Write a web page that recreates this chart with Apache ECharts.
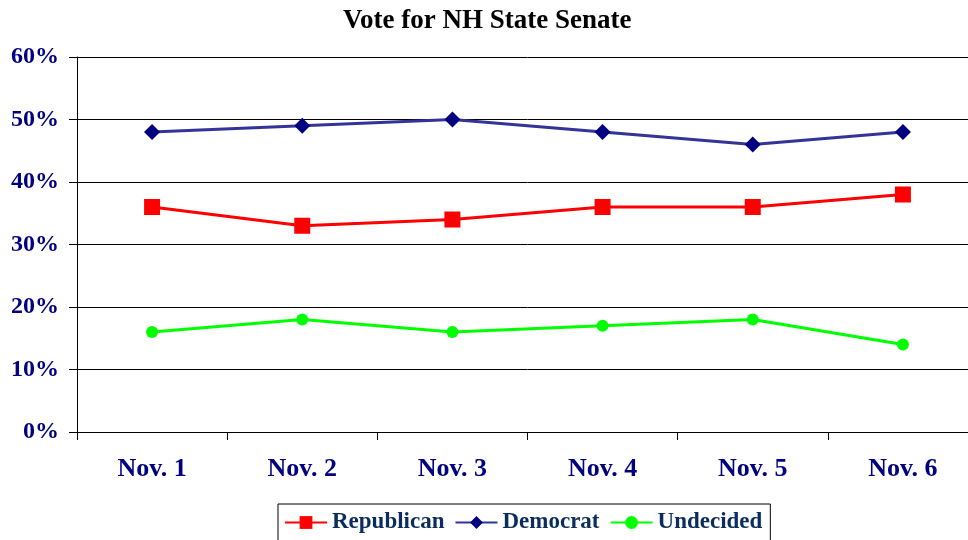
<!DOCTYPE html>
<html>
<head>
<meta charset="utf-8">
<script src="https://cdn.jsdelivr.net/npm/echarts@6/dist/echarts.min.js"></script>
<style>
  html, body { margin: 0; padding: 0; background: #fff; overflow: hidden; }
  #main { width: 978px; height: 540px; }
</style>
</head>
<body>
<div id="main"></div>
<script>
const days = ["Nov. 1", "Nov. 2", "Nov. 3", "Nov. 4", "Nov. 5", "Nov. 6"];
const republican = [36, 33, 34, 36, 36, 38];
const democrat = [48, 49, 50, 48, 46, 48];
const undecided = [16, 18, 16, 17, 18, 14];

const serif = "'Liberation Serif', 'Times New Roman', serif";

// the plot runs past the right edge of the 968px picture, so the div is a bit wider
var chart = echarts.init(document.getElementById("main"));
var option = {
  animation: false,
  title: {
    text: "Vote for NH State Senate",
    left: 338,
    top: 3,
    textStyle: { fontFamily: serif, fontSize: 27, fontWeight: "bold", color: "#000" },
  },
  legend: {
    bottom: -2,
    left: 278,
    itemWidth: 42,
    itemHeight: 16,
    itemGap: 10,
    padding: [7, 8, 8, 6],
    borderColor: "#000",
    borderWidth: 1,
    textStyle: { fontFamily: serif, fontSize: 23, fontWeight: "bold", color: "#0b2d5e" },
    data: ["Republican", "Democrat", "Undecided"],
  },
  grid: { left: 77, right: 0, top: 57, bottom: 108, containLabel: false },
  xAxis: {
    type: "category",
    data: days,
    boundaryGap: true,
    axisLine: { lineStyle: { color: "#000", width: 1 } },
    axisTick: { show: true, length: 8, lineStyle: { color: "#000" } },
    axisLabel: {
      margin: 24,
      fontFamily: serif, fontSize: 26, fontWeight: "bold", color: "#000080",
    },
  },
  yAxis: {
    type: "value",
    min: 0, max: 60, interval: 10,
    axisLine: { show: true, lineStyle: { color: "#000" } },
    axisTick: { show: true, length: 8, lineStyle: { color: "#000" } },
    splitLine: { show: true, lineStyle: { color: "#000", width: 1 } },
    axisLabel: {
      margin: 18,
      formatter: "{value}%",
      fontFamily: serif, fontSize: 24, fontWeight: "bold", color: "#000080",
    },
  },
  series: [
    {
      name: "Republican",
      type: "line",
      data: republican,
      symbol: "rect",
      symbolSize: 16,
      lineStyle: { color: "#ff0000", width: 3 },
      itemStyle: { color: "#ff0000" },
      z: 3,
    },
    {
      name: "Democrat",
      type: "line",
      data: democrat,
      symbol: "diamond",
      symbolSize: 16,
      lineStyle: { color: "#333399", width: 3 },
      itemStyle: { color: "#000080" },
      z: 3,
    },
    {
      name: "Undecided",
      type: "line",
      data: undecided,
      symbol: "circle",
      symbolSize: 12,
      lineStyle: { color: "#00ff00", width: 3 },
      itemStyle: { color: "#00ff00" },
      z: 3,
    },
  ],
};
option && chart.setOption(option);
</script>
</body>
</html>
